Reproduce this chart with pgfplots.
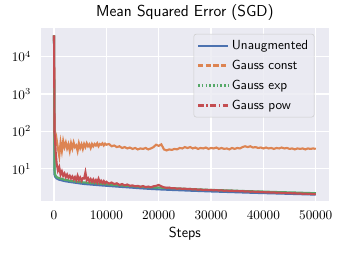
\documentclass[border=0pt]{standalone}
\usepackage{pgfplots}
\usepackage{pgfplotstable}
\pgfplotsset{compat=1.18}
\definecolor{sbblue}{HTML}{4C72B0}
\definecolor{sborange}{HTML}{DD8452}
\definecolor{sbgreen}{HTML}{55A868}
\definecolor{sbred}{HTML}{C44E52}
\definecolor{sbbg}{HTML}{EAEAF2}
\definecolor{sbedge}{HTML}{CCCCCC}

\pgfplotstableread{
x y
0 37000
100 7
200 6.2
500 5.5
1000 5.1
1500 4.9
2000 4.7
3000 4.45
4000 4.25
5000 4.05
6000 3.9
7000 3.8
8000 3.7
9000 3.6
10000 3.52
12000 3.35
14000 3.2
16000 3.05
18000 2.92
20000 2.82
22000 2.74
24000 2.67
26000 2.6
28000 2.54
30000 2.48
32000 2.43
34000 2.38
36000 2.33
38000 2.28
40000 2.24
42000 2.2
44000 2.16
46000 2.12
48000 2.08
50000 2.04
}\unaug

\pgfplotstableread{
x y
0 37000
100 70
200 40
300 80
400 45
500 60
750 35
1000 22
1250 50
1500 30
1750 55
2000 38
2250 50
2500 35
2750 45
3000 30
3250 48
3500 35
3750 50
4000 38
4250 42
4500 30
4750 48
5000 36
5250 45
5500 34
5750 46
6000 38
6250 48
6500 40
6750 45
7000 36
7250 46
7500 40
7750 46
8000 42
8250 48
8500 40
8750 46
9000 44
9250 48
9500 42
9750 47
10000 44
10500 46
11000 40
11500 42
12000 38
12500 40
13000 36
13500 38
14000 35
14500 37
15000 34
15500 36
16000 33
16500 35
17000 34
17500 36
18000 33
18500 35
19000 38
19500 44
20000 41
20500 45
21000 33
21500 31
22000 33
22500 32
23000 34
23500 33
24000 36
24500 35
25000 38
25500 36
26000 38
26500 35
27000 37
27500 34
28000 36
28500 35
29000 37
29500 34
30000 36
30500 35
31000 37
31500 34
32000 36
32500 34
33000 35
33500 33
34000 36
34500 34
35000 36
35500 35
36000 38
36500 40
37000 38
37500 40
38000 37
38500 38
39000 36
39500 37
40000 35
40500 37
41000 35
41500 36
42000 34
42500 36
43000 35
43500 37
44000 35
44500 36
45000 34
45500 35
46000 33
46500 35
47000 34
47500 35
48000 33
48500 35
49000 34
49500 35
50000 34
}\gconst

\pgfplotstableread{
x y
0 37000
100 9
200 7
500 6
1000 5.6
1500 5.4
2000 5.1
2500 5.0
3000 4.8
4000 4.6
5000 4.4
6000 4.3
7000 4.15
8000 4.1
9000 3.95
10000 3.85
12000 3.65
14000 3.5
16000 3.35
18000 3.2
20000 3.15
22000 3.05
24000 2.95
26000 2.88
28000 2.8
30000 2.72
32000 2.67
34000 2.62
36000 2.55
38000 2.5
40000 2.46
42000 2.4
44000 2.36
46000 2.32
48000 2.27
50000 2.22
}\gexp

\pgfplotstableread{
x y
0 37000
100 90
200 60
300 30
400 20
500 14
750 9
1000 11
1250 7
1500 8.5
1750 6.5
2000 7.5
2250 6
2500 7
2750 5.8
3000 6.5
3250 5.5
3500 6.2
3750 5.2
4000 6
4250 5
4500 6.5
4750 5
5000 5.8
5250 4.8
5500 5.6
5750 5.5
6000 8
6250 5
6500 5.6
6750 4.6
7000 5.3
7250 4.5
7500 5.2
7750 4.4
8000 5
8250 4.3
8500 5.4
8750 4.3
9000 4.8
9250 4.2
9500 4.7
9750 4.1
10000 4.5
10500 4.0
11000 4.3
11500 3.9
12000 4.1
12500 3.7
13000 3.9
13500 3.6
14000 3.8
14500 3.5
15000 3.6
15500 3.4
16000 3.5
16500 3.3
17000 3.45
17500 3.25
18000 3.35
18500 3.2
19000 3.4
19500 3.5
20000 3.7
20500 3.4
21000 3.2
21500 3.1
22000 3.15
22500 3.0
23000 3.05
23500 2.92
24000 3.0
24500 2.9
25000 2.95
25500 2.85
26000 2.9
26500 2.8
27000 2.85
27500 2.75
28000 2.8
28500 2.7
29000 2.75
29500 2.68
30000 2.72
30500 2.65
31000 2.7
31500 2.62
32000 2.66
32500 2.58
33000 2.62
33500 2.55
34000 2.6
34500 2.52
35000 2.56
35500 2.5
36000 2.54
36500 2.46
37000 2.5
37500 2.43
38000 2.47
38500 2.4
39000 2.44
39500 2.37
40000 2.4
40500 2.34
41000 2.37
41500 2.31
42000 2.34
42500 2.28
43000 2.31
43500 2.25
44000 2.28
44500 2.22
45000 2.26
45500 2.2
46000 2.23
46500 2.17
47000 2.2
47500 2.14
48000 2.17
48500 2.12
49000 2.15
49500 2.1
50000 2.12
}\gpow

\begin{document}
\begin{tikzpicture}
\begin{axis}[
  scale only axis,
  width=218pt, height=131pt,
  ymode=log,
  xmin=-2500, xmax=52500,
  ymin=1.4, ymax=59000,
  xtick={0,10000,20000,30000,40000,50000},
  ytick={10,100,1000,10000},
  scaled x ticks=false,
  /pgf/number format/1000 sep={},
  xticklabel style={yshift=-4pt},
  yticklabel style={xshift=-4pt},
  axis background/.style={fill=sbbg},
  axis line style={draw=none},
  tick style={draw=none},
  grid=major,
  major grid style={white, line width=0.9pt},
  title={\sffamily\fontsize{12}{14}\selectfont Mean Squared Error (SGD)},
  title style={yshift=-4pt},
  xlabel={\sffamily\fontsize{11}{13}\selectfont Steps},
  xlabel style={yshift=1pt},
  legend cell align=left,
  legend style={at={(0.95,0.965)}, anchor=north east, fill=sbbg, fill opacity=0.8, text opacity=1,
    draw=sbedge, rounded corners=2pt, font=\sffamily, row sep=2.6pt, inner sep=2.5pt},
  legend image code/.code={\draw[#1] (0cm,0cm) -- (0.8cm,0cm);},
]
\addplot[sbblue, line width=1.6pt] table[x=x,y=y] {\unaug};
\addlegendentry{Unaugmented}
\addplot[sborange, line width=1.6pt, legend image post style={dash pattern=on 4pt off 1.8pt}] table[x=x,y=y] {\gconst};
\addlegendentry{Gauss const}
\addplot[sbgreen, line width=1.6pt, legend image post style={dash pattern=on 1.2pt off 1.6pt}] table[x=x,y=y] {\gexp};
\addlegendentry{Gauss exp}
\addplot[sbred, line width=1.6pt, legend image post style={dash pattern=on 4.5pt off 1.8pt on 1.2pt off 1.8pt}] table[x=x,y=y] {\gpow};
\addlegendentry{Gauss pow}
\end{axis}
\pgfresetboundingbox
\path (current axis.south west) ++(-31pt,-40pt) rectangle ++(262pt,192pt);
\end{tikzpicture}
\end{document}
